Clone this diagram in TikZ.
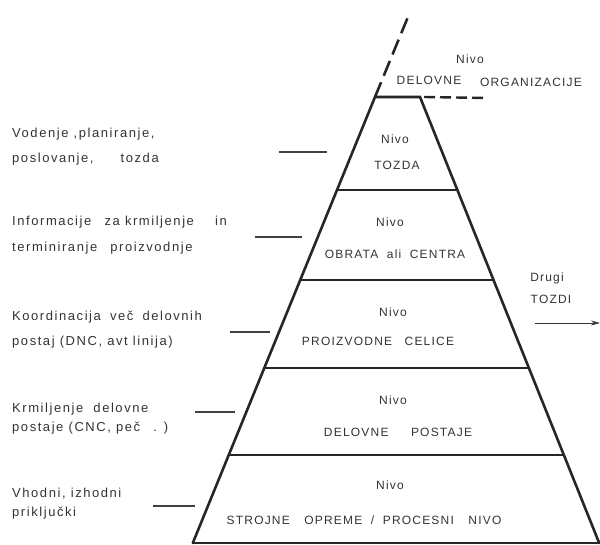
\documentclass[tikz,border=0pt]{standalone}
\usepackage{fontspec}
\setmainfont{Liberation Sans}
\usetikzlibrary{arrows.meta}
\begin{document}
\begin{tikzpicture}[x=1pt,y=-1pt,
  pyr/.style={line width=2.6pt, draw=black!85, line cap=round},
  tickline/.style={line width=1.1pt, draw=black!75},
  lbl/.style={anchor=base west, inner sep=0pt, text=black!80, font=\fontsize{13}{15}\selectfont\addfontfeature{LetterSpace=12}},
  lvl/.style={anchor=base, inner sep=0pt, text=black!80, font=\fontsize{12}{14}\selectfont\addfontfeature{LetterSpace=10}},
  dashl/.style={line width=2.6pt, draw=black!85, dash pattern=on 16pt off 7pt}
]
\useasboundingbox (0,0) rectangle (600,545);
% pyramid corners
\coordinate (TL) at (375,97);
\coordinate (TR) at (420,97);
\coordinate (BL) at (192.8,543);
\coordinate (BR) at (599.2,543);
\coordinate (L1) at (337,190);   \coordinate (R1) at (457.4,190);
\coordinate (L2) at (300.2,280); \coordinate (R2) at (493.5,280);
\coordinate (L3) at (264.3,368); \coordinate (R3) at (528.9,368);
\coordinate (L4) at (228.8,455); \coordinate (R4) at (563.8,455);
\draw[pyr] (BL) -- (TL) -- (TR) -- (BR);
\draw[pyr] (L1) -- (R1);
\draw[pyr] (L2) -- (R2);
\draw[pyr] (L3) -- (R3);
\draw[pyr] (L4) -- (R4);
\draw[pyr, line width=1.5pt] (BL) -- (BR);
% dashed extensions
\coordinate (DT) at (410,12);
\coordinate (DR) at (486,98);
\draw[dashl] (TL) -- (DT);
\draw[line width=2.4pt, draw=black!85, dash pattern=on 11pt off 5pt] ([xshift=4pt]TR) -- (DR);
% top label
\node[lvl] (n0) at (470,64) {Nivo};
\node[lvl] (d0) at (429,85) {DELOVNE};
\node[lvl] (o0) at (531,87) {ORGANIZACIJE};
% levels
\node[lvl] (n1) at (395,144) {Nivo};
\node[lvl] (t1) at (397,170) {TOZDA};
\node[lvl] (n2) at (390,227) {Nivo};
\node[lvl] (t2) at (395,259) {OBRATA\hspace{4pt} ali\hspace{4pt} CENTRA};
\node[lvl] (n3) at (393,317) {Nivo};
\node[lvl] (t3) at (378,346) {PROIZVODNE\hspace{8pt} CELICE};
\node[lvl] (n4) at (393,404) {Nivo};
\node[lvl] (t4) at (398,436) {DELOVNE\hspace{18pt} POSTAJE};
\node[lvl] (n5) at (390,489) {Nivo};
\node[lvl] (t5) at (364,524) {STROJNE\hspace{10pt} OPREME\hspace{4pt} /\hspace{4pt} PROCESNI\hspace{10pt} NIVO};
% right side
\node[lvl] (dr1) at (547,282) {Drugi};
\node[lvl] (dr2) at (551,304) {TOZDI};
\coordinate (A0) at (535,323);
\coordinate (A1) at (600,323);
\draw[line width=0.9pt, draw=black!80, -{Stealth[length=9pt,width=5pt]}] (A0) -- (A1);
% left labels
\node[lbl] (a1) at (12,138) {Vodenje ,planiranje,};
\node[lbl] (a2) at (12,163) {poslovanje,\hspace{22pt} tozda};
\node[lbl] (b1) at (12,226) {Informacije\hspace{8pt} za krmiljenje\hspace{16pt} in};
\node[lbl] (b2) at (12,252) {terminiranje\hspace{8pt} proizvodnje};
\node[lbl] (c1) at (12,321) {Koordinacija\hspace{4pt} več\hspace{4pt} delovnih};
\node[lbl] (c2) at (12,346) {postaj (DNC, avt linija)};
\node[lbl] (e1) at (12,412) {Krmiljenje\hspace{5pt} delovne};
\node[lbl] (e2) at (12,431) {postaje (CNC, peč\hspace{8pt} . )};
\node[lbl] (f1) at (12,497) {Vhodni, izhodni};
\node[lbl] (f2) at (12,516) {priključki};
% ticks
\coordinate (k1a) at (279,152); \coordinate (k1b) at (327,152);
\coordinate (k2a) at (255,237); \coordinate (k2b) at (302,237);
\coordinate (k3a) at (230,332); \coordinate (k3b) at (270,332);
\coordinate (k4a) at (195,412); \coordinate (k4b) at (235,412);
\coordinate (k5a) at (153,506); \coordinate (k5b) at (195,506);
\draw[tickline] (k1a) -- (k1b);
\draw[tickline] (k2a) -- (k2b);
\draw[tickline] (k3a) -- (k3b);
\draw[tickline] (k4a) -- (k4b);
\draw[tickline] (k5a) -- (k5b);
\end{tikzpicture}
\end{document}
